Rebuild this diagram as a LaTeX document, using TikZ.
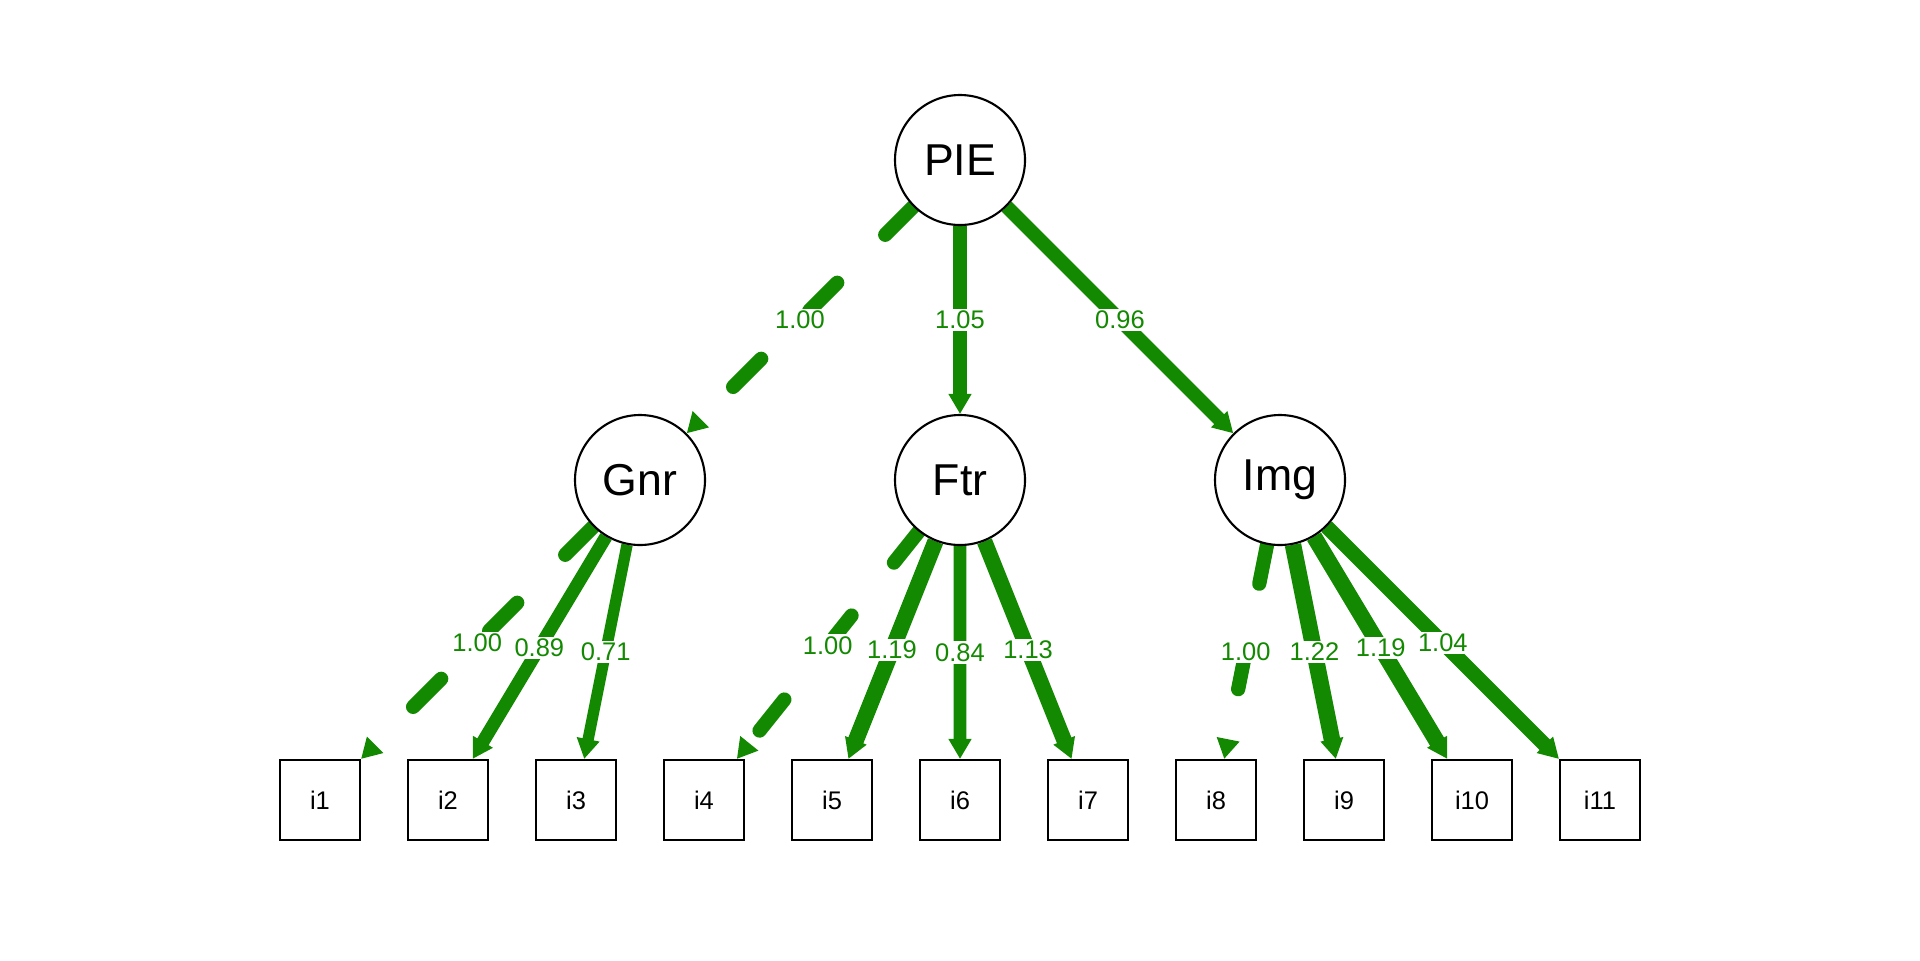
\documentclass[tikz,border=0pt]{standalone}
\usepackage{fontspec}
\setmainfont{Liberation Sans}
\usetikzlibrary{positioning,arrows.meta,backgrounds}
\definecolor{semgreen}{RGB}{18,137,0}
\begin{document}
\begin{tikzpicture}[lat/.style = {draw, circle, fill=white, line width=0.6pt, minimum size=1.3cm, inner sep=0pt, font=\fontsize{12.7}{15}\selectfont},
    obs/.style = {draw, rectangle, fill=white, line width=0.6pt, minimum size=0.8cm, inner sep=0pt, font=\fontsize{7.25}{9}\selectfont},
    est/.style = {draw=semgreen, line width={1.22pt+2.835pt*#1}, -{Triangle[length=5.7pt,width=6.2pt]}},
    fix/.style = {est=#1, line cap=round, dash pattern=on 11.3pt off 19.3pt},
    lbl/.style = {midway, fill=white, inner sep=0.6pt, text=semgreen, font=\fontsize{7.25}{9}\selectfont},
    node distance=1.28cm]
            \useasboundingbox (0,0) rectangle (19.2,9.6);
            \node[lat] (PIE) at (9.6,8) {PIE};
            \node[lat] (Gnr) at (6.4,4.8) {Gnr};
            \node[lat] (Ftr) at (9.6,4.8) {Ftr};
            \node[lat] (Img) at (12.8,4.8) {Img};
            \node[obs] (i1) at (3.2,1.6) {i1};
            \node[obs] (i2) [right of=i1] {i2};
            \node[obs] (i3) [right of=i2] {i3};
            \node[obs] (i4) [right of=i3] {i4};
            \node[obs] (i5) [right of=i4] {i5};
            \node[obs] (i6) [right of=i5] {i6};
            \node[obs] (i7) [right of=i6] {i7};
            \node[obs] (i8) [right of=i7] {i8};
            \node[obs] (i9) [right of=i8] {i9};
            \node[obs] (i10) [right of=i9] {i10};
            \node[obs] (i11) [right of=i10] {i11};
            \begin{scope}[on background layer]
            \draw[fix=1.00] (PIE) -- (Gnr) node[lbl] {1.00};
            \draw[est=1.05] (PIE) -- (Ftr) node[lbl] {1.05};
            \draw[est=0.96] (PIE) -- (Img) node[lbl] {0.96};
            \draw[fix=1.00] (Gnr) -- (i1) node[lbl] {1.00};
            \draw[est=0.89] (Gnr) -- (i2) node[lbl] {0.89};
            \draw[est=0.71] (Gnr) -- (i3) node[lbl] {0.71};
            \draw[fix=1.00] (Ftr) -- (i4) node[lbl] {1.00};
            \draw[est=1.19] (Ftr) -- (i5) node[lbl] {1.19};
            \draw[est=0.84] (Ftr) -- (i6) node[lbl] {0.84};
            \draw[est=1.13] (Ftr) -- (i7) node[lbl] {1.13};
            \draw[fix=1.00] (Img) -- (i8) node[lbl] {1.00};
            \draw[est=1.22] (Img) -- (i9) node[lbl] {1.22};
            \draw[est=1.19] (Img) -- (i10) node[lbl] {1.19};
            \draw[est=1.04] (Img) -- (i11) node[lbl] {1.04};
            \end{scope}
        \end{tikzpicture}
\end{document}
